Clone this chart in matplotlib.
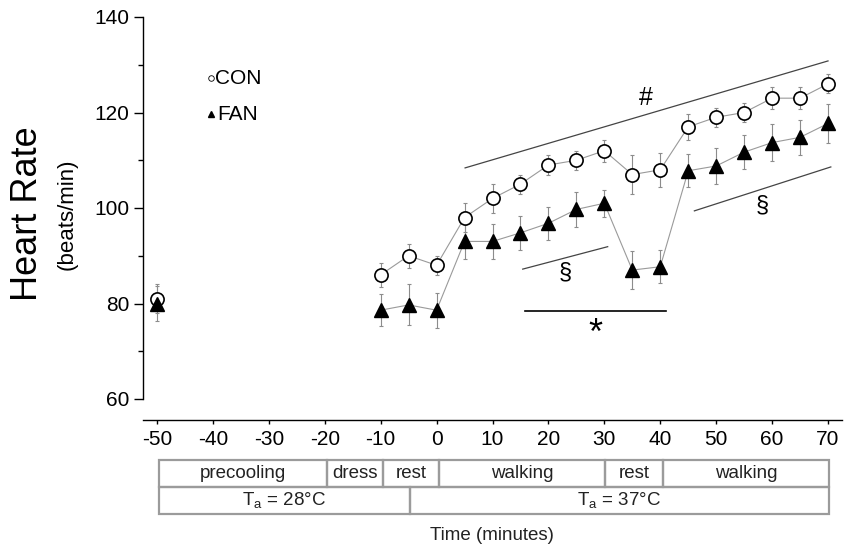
import matplotlib
matplotlib.use("Agg")
import matplotlib.pyplot as plt
import matplotlib.ticker
from matplotlib.patches import Rectangle
import numpy as np

plt.rcParams["font.family"] = ["Liberation Sans", "DejaVu Sans"]
plt.rcParams["axes.unicode_minus"] = False

# heart rate (beats/min), mean and error bar half-width
time = [-50, -10, -5, 0, 5, 10, 15, 20, 25, 30, 35, 40, 45, 50, 55, 60, 65, 70]
con = [81, 86, 90, 88, 98, 102, 105, 109, 110, 112, 107, 108, 117, 119, 120, 123, 123, 126]
con_err = [3, 2.5, 2.5, 2, 3, 3, 2, 2, 2, 2.3, 4, 3.6, 2.7, 2, 2, 2.3, 2.3, 2]
fan = [80, 78.6, 79.7, 78.6, 93, 93, 94.8, 96.8, 99.7, 101, 87, 87.7, 107.8, 108.8, 111.7, 113.7, 114.8, 117.7]
fan_err = [3.6, 3.3, 4.3, 3.7, 3.7, 3.7, 3.5, 3.5, 3.6, 2.8, 4, 3.4, 3.5, 3.7, 3.6, 3.9, 3.6, 4]

# protocol phases shown under the time axis
phase_labels = ["precooling", "dress", "rest", "walking", "rest", "walking"]
phase_edges = [-49.6, -19.6, -9.5, 0.4, 30.1, 40.5, 70.1]
temp_labels = [r"T$_{\mathregular{a}}$ = 28°C", r"T$_{\mathregular{a}}$ = 37°C"]
temp_edges = [-49.6, -4.8, 70.1]

fig = plt.figure(figsize=(8.51, 5.45), dpi=100)
ax = fig.add_axes([143 / 851, 1 - 399 / 545, 699 / 851, 382 / 545])

t = np.array(time)
line_kw = dict(color="#9a9a9a", lw=0.8, zorder=1)
ax.plot(t[1:], con[1:], **line_kw)
ax.plot(t[1:], fan[1:], **line_kw)
err_kw = dict(fmt="none", ecolor="#8c8c8c", elinewidth=0.8, capsize=1.6, capthick=0.8, zorder=2)
ax.errorbar(t, con, yerr=con_err, **err_kw)
ax.errorbar(t, fan, yerr=fan_err, **err_kw)
ax.plot(t, con, "o", ms=9.5, mfc="white", mec="black", mew=1.2, ls="none", zorder=3)
ax.plot(t, fan, "^", ms=10.5, mfc="black", mec="black", ls="none", zorder=4)

# legend drawn as markers + text
ax.plot([-40.4], [127.2], "o", ms=4, mfc="white", mec="black", mew=0.6)
ax.plot([-40.4], [119.6], "^", ms=4.5, color="black")
ax.text(-39.6, 127.2, "CON", fontsize=15, va="center", ha="left")
ax.text(-39.3, 119.6, "FAN", fontsize=15, va="center", ha="left")

# significance annotations
ax.plot([5.1, 70.0], [108.4, 130.8], color="#444444", lw=0.9)
ax.text(37.5, 123.0, "#", fontsize=18, ha="center", va="center")
ax.plot([15.4, 30.6], [87.2, 91.9], color="#444444", lw=0.9)
ax.text(23.0, 86.6, "§", fontsize=17, ha="center", va="center")
ax.plot([46.1, 70.5], [99.4, 108.6], color="#444444", lw=0.9)
ax.text(58.2, 100.6, "§", fontsize=17, ha="center", va="center")
ax.plot([15.8, 41.0], [78.4, 78.4], color="black", lw=1.2)
ax.text(28.4, 73.6, "*", fontsize=26, ha="center", va="center")

ax.set_xlim(-52.5, 72.5)
ax.set_ylim(60, 140)
ax.set_xticks(np.arange(-50, 71, 10))
ax.set_yticks(np.arange(60, 141, 20))
ax.yaxis.set_minor_locator(matplotlib.ticker.MultipleLocator(10))
for s in ("top", "right"):
    ax.spines[s].set_visible(False)
ax.spines["bottom"].set_position(("outward", 15))
ax.spines["left"].set_linewidth(1.0)
ax.spines["bottom"].set_linewidth(1.0)
ax.tick_params(axis="y", which="major", length=6.5, width=1, labelsize=15, pad=3.5)
ax.tick_params(axis="y", which="minor", length=3.5, width=1)
ax.tick_params(axis="x", length=3, width=1, labelsize=15, pad=4)

fig.text(28 / 851, 1 - 214 / 545, "Heart Rate", rotation=90, fontsize=26,
         ha="center", va="center")
fig.text(67 / 851, 1 - 214 / 545, "(beats/min)", rotation=90, fontsize=16,
         ha="center", va="center")

# protocol table
tab = fig.add_axes([143 / 851, 1 - 514 / 545, 699 / 851, 54 / 545])
tab.set_xlim(ax.get_xlim())
tab.set_ylim(0, 2)
tab.axis("off")
box_kw = dict(fill=False, edgecolor="#9b9b9b", lw=1.6, clip_on=False)
for lab, a, b in zip(phase_labels, phase_edges[:-1], phase_edges[1:]):
    tab.add_patch(Rectangle((a, 1), b - a, 1, **box_kw))
    tab.text((a + b) / 2, 1.5, lab, fontsize=13.5, color="#222222", ha="center", va="center")
for lab, a, b in zip(temp_labels, temp_edges[:-1], temp_edges[1:]):
    tab.add_patch(Rectangle((a, 0), b - a, 1, **box_kw))
    tab.text((a + b) / 2, 0.5, lab, fontsize=13.5, color="#222222", ha="center", va="center")

fig.text(492 / 851, 1 - 535 / 545, "Time (minutes)", fontsize=13.5, color="#222222",
         ha="center", va="center")

fig.savefig("out.png", dpi=100)
